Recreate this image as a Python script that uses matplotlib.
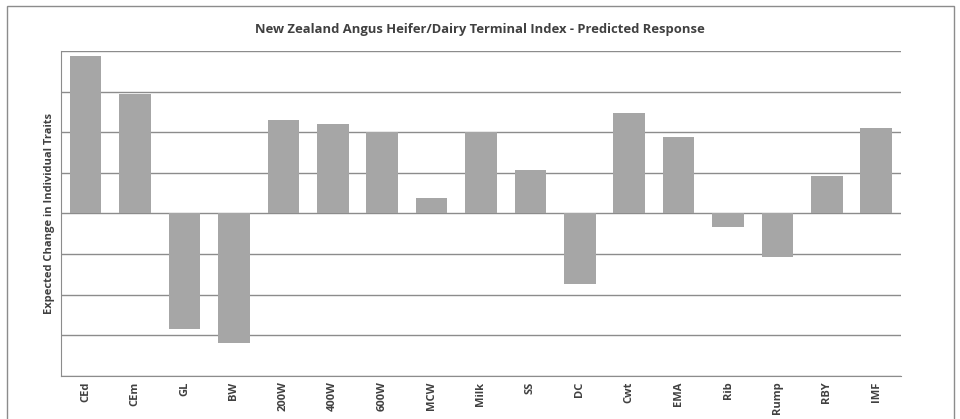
import numpy as np
import matplotlib.pyplot as plt
from matplotlib.patches import Rectangle

plt.rcParams['font.family'] = ['Open Sans', 'DejaVu Sans']

# Trait names and predicted response (in gridline units) #
traits = ['CEd', 'CEm', 'GL', 'BW', '200W', '400W', '600W', 'MCW', 'Milk',
          'SS', 'DC', 'Cwt', 'EMA', 'Rib', 'Rump', 'RBY', 'IMF']
response = [3.88, 2.95, -2.84, -3.19, 2.29, 2.21, 2.0, 0.39, 2.01,
            1.08, -1.74, 2.46, 1.89, -0.34, -1.07, 0.93, 2.09]

fig = plt.figure(figsize=(9.6, 4.19), dpi=100)
ax = fig.add_axes([0.0635, 0.1026, 0.875, 0.776])

x = np.arange(len(traits))
ax.bar(x, response, width=0.64, color='#a6a6a6', zorder=2)

ax.set_xlim(-0.5, len(traits) - 0.5)
ax.set_ylim(-4, 4)
ax.set_yticks(np.arange(-4, 5, 1))
ax.set_yticklabels([])
ax.tick_params(axis='y', length=0)
ax.tick_params(axis='x', length=0, pad=4)
ax.yaxis.grid(True, color='#8c8c8c', linewidth=1.0, zorder=1)
ax.set_axisbelow(True)

ax.set_xticks(x)
ax.set_xticklabels(traits, rotation=90, fontsize=8, fontweight='bold',
                   color='#404040', va='top')

for s in ['top', 'right']:
    ax.spines[s].set_visible(False)
ax.spines['left'].set_color('#8c8c8c')
ax.spines['bottom'].set_color('#8c8c8c')

ax.set_ylabel('Expected Change in Individual Traits', fontsize=8,
              fontweight='bold', color='#404040', labelpad=1)

fig.text(0.5, 0.93, 'New Zealand Angus Heifer/Dairy Terminal Index - Predicted Response',
         ha='center', va='center', fontsize=9.4, fontweight='bold', color='#404040')

# outer chart border #
fig.patches.append(Rectangle((7 / 960, -0.05), 947 / 960, 1.0 - 6 / 419 + 0.05,
                             transform=fig.transFigure, fill=False,
                             edgecolor='#8c8c8c', linewidth=1.0))

fig.savefig('out.png', dpi=100)
